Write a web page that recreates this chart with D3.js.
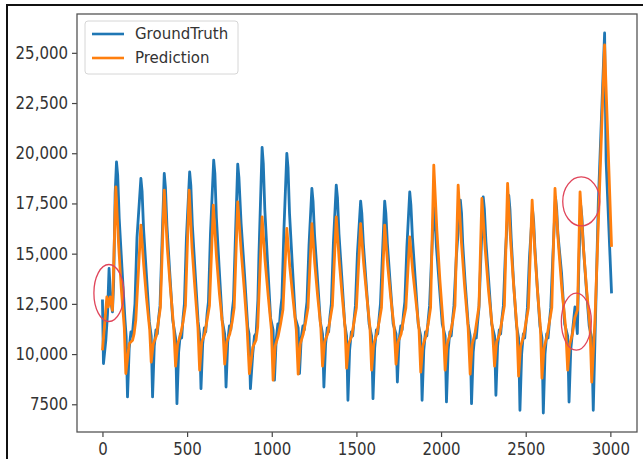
<!DOCTYPE html>
<html>
<head>
<meta charset="utf-8">
<script src="https://cdn.jsdelivr.net/npm/d3@7"></script>
<style>
  body { margin: 0; background: #fff; }
  svg { display: block; font-family: "DejaVu Sans", sans-serif; }
</style>
</head>
<body>
<div id="chart"></div>
<script>
'use strict'

// Series, [index, value]
//----------------------------------------------
var gt_points = [
  [0,12720],[6,9530],[20,10690],[30,12020],[39,14260],[50,12600],[59,12100],[66,13500],[75,18000],[83,19574],
  [90,18900],[99,16750],[115,14330],[133,11700],[140,10900],[148,7864],[158,10300],[168,11100],[176,10900],[184,11700],[192,12500],[204,15800],[227,18746],
  [234,18100],[243,16210],[259,14040],[277,11600],[288,10900],[296,7864],[306,10400],[316,11200],[324,11000],[332,11800],[340,12400],[352,15600],[365,18995],
  [372,18300],[381,16370],[397,14120],[415,11700],[432,10800],[440,7534],[450,10100],[460,11000],[468,10800],[476,11800],[484,12500],[496,15800],[515,19075],
  [522,18400],[531,16420],[547,14150],[565,11600],[574,11000],[582,8280],[592,10500],[602,11300],[610,11100],[618,12000],[626,12600],[638,16000],[657,19658],
  [664,19000],[673,16800],[689,14350],[707,11700],[722,11000],[730,8360],[740,10600],[750,11400],[758,11200],[766,12100],[774,12700],[786,16000],[799,19459],
  [806,18800],[819,16500],[839,14000],[858,11350],[866,11000],[874,8280],[888,10040],[898,10900],[908,11040],[918,12680],[924,14850],[943,20290],
  [950,19500],[959,17200],[975,14600],[993,11800],[1008,11200],[1016,8700],[1026,10700],[1036,11500],[1044,11300],[1052,12200],[1060,12800],[1072,16200],[1089,19992],
  [1096,19300],[1105,17000],[1121,14500],[1139,11800],[1156,11300],[1164,9030],[1174,10800],[1184,11400],[1192,11200],[1200,12000],[1208,12600],[1220,15400],[1237,18248],
  [1244,17600],[1253,15900],[1269,13900],[1287,11600],[1300,11000],[1308,8360],[1318,10500],[1328,11300],[1336,11100],[1344,11900],[1352,12500],[1364,15500],[1381,18413],
  [1388,17800],[1397,15990],[1413,13920],[1431,11500],[1442,10900],[1450,7700],[1460,10200],[1470,11100],[1478,10900],[1486,11700],[1494,12400],[1506,15000],[1525,17615],
  [1532,17000],[1541,15500],[1557,13600],[1575,11500],[1590,10900],[1598,7780],[1608,10300],[1618,11200],[1626,11000],[1634,11800],[1642,12500],[1654,15000],[1667,17615],
  [1674,17000],[1683,15500],[1699,13600],[1717,11500],[1734,11000],[1742,8610],[1752,10700],[1762,11400],[1770,11200],[1778,12000],[1786,12600],[1798,15300],[1815,18080],
  [1822,17400],[1831,15800],[1847,13800],[1865,11500],[1880,10900],[1888,7700],[1898,10200],[1908,11100],[1916,10900],[1924,11700],[1932,12400],[1944,14800],[1957,17300],
  [1964,16800],[1973,15300],[1989,13500],[2007,11500],[2024,10900],[2032,7615],[2042,10200],[2052,11100],[2060,10900],[2068,11700],[2076,12400],[2090,14800],[2114,17665],
  [2121,17000],[2128,15500],[2142,13600],[2160,11500],[2172,10900],[2180,7534],[2190,10100],[2200,11000],[2208,10800],[2216,11600],[2224,12300],[2236,15000],[2249,17830],
  [2256,17200],[2265,15600],[2281,13700],[2299,11500],[2316,10900],[2324,7950],[2334,10400],[2344,11200],[2352,11000],[2360,11800],[2368,12400],[2380,15000],[2400,17900],
  [2407,17200],[2414,15800],[2428,13600],[2446,11400],[2458,10800],[2466,7200],[2476,10000],[2486,11000],[2494,10800],[2502,11600],[2510,12300],[2522,14800],[2540,17200],
  [2547,16600],[2554,15300],[2568,13400],[2584,11400],[2596,10800],[2604,7066],[2614,10000],[2624,11000],[2632,10800],[2640,11600],[2648,12300],[2660,14800],[2676,17800],
  [2683,17200],[2690,16000],[2712,14000],[2730,11500],[2748,10900],[2756,7614],[2766,10200],[2776,11100],[2791,12350],[2805,11020],[2814,14500],[2825,17400],
  [2832,16800],[2841,15300],[2857,13400],[2875,11400],[2890,10800],[2899,7200],[2929,17580],[2966,25987],[2975,19600],[3007,13020]
]

var pred_points = [
  [0,10190],[14,11600],[26,12850],[34,12350],[46,12850],[59,12180],[79,18328],
  [95,15500],[111,13300],[129,11300],[138,9030],[158,10520],[178,10690],[187,11020],[197,11690],[227,16420],
  [244,14400],[260,12800],[279,11200],[288,9600],[300,10500],[318,10900],[330,11600],[342,12300],[365,18164],
  [383,15300],[401,13300],[421,11300],[432,9400],[444,10500],[462,11000],[476,11600],[490,12400],[512,18164],
  [529,15300],[546,13300],[564,11300],[574,9200],[586,10600],[604,11000],[618,11700],[632,12400],[655,17415],
  [673,14900],[691,13000],[711,11300],[722,9500],[734,10600],[752,11000],[766,11600],[778,12300],[799,17580],
  [819,15170],[838,13180],[854,11350],[868,9030],[888,10350],[907,10690],[917,11350],[943,16833],
  [961,14600],[979,12900],[998,11200],[1008,8700],[1020,10400],[1038,10900],[1052,11500],[1066,12200],[1089,16255],
  [1107,14300],[1125,12800],[1145,11200],[1156,9000],[1168,10500],[1186,11000],[1200,11600],[1214,12300],[1237,16500],
  [1254,14500],[1271,12900],[1290,11300],[1300,9400],[1312,10600],[1330,11000],[1344,11700],[1358,12400],[1381,16833],
  [1398,14700],[1415,13000],[1433,11300],[1442,9300],[1454,10500],[1472,10900],[1486,11600],[1500,12300],[1525,16500],
  [1543,14500],[1561,12900],[1580,11300],[1590,9200],[1602,10500],[1620,11000],[1634,11600],[1648,12300],[1667,16420],
  [1685,14400],[1703,12800],[1723,11300],[1734,9500],[1746,10600],[1764,11000],[1778,11700],[1792,12300],[1815,15836],
  [1833,14100],[1851,12700],[1870,11200],[1880,9100],[1892,10400],[1910,10900],[1924,11500],[1938,12300],[1957,19410],
  [1975,16200],[1993,13700],[2013,11400],[2024,9200],[2036,10500],[2054,11000],[2068,11600],[2082,12400],[2101,18413],
  [2120,15600],[2139,13400],[2160,11300],[2172,9000],[2184,10500],[2200,11000],[2212,11700],[2224,12400],[2241,17750],
  [2261,15200],[2281,13100],[2303,11300],[2316,9400],[2328,10600],[2346,11000],[2360,11700],[2374,12400],[2393,18500],
  [2411,15600],[2429,13400],[2448,11300],[2458,8900],[2470,10400],[2488,10900],[2502,11600],[2516,12300],[2538,17665],
  [2554,15100],[2570,13100],[2587,11300],[2596,8800],[2608,10300],[2626,10900],[2640,11600],[2654,12300],[2673,18248],
  [2693,15500],[2713,13300],[2736,11300],[2748,9200],[2760,10500],[2776,11000],[2790,11800],[2806,12200],[2821,18080],
  [2840,15400],[2859,13300],[2880,11300],[2890,8600],[2909,11700],[2966,25390],[3007,15340]
]

var series_names = ['GroundTruth', 'Prediction']
var x_ticks = [0, 500, 1000, 1500, 2000, 2500, 3000]
var x_tick_labels = ['0', '500', '1000', '1500', '2000', '2500', '3000']
var y_ticks = [7500, 10000, 12500, 15000, 17500, 20000, 22500, 25000]
var y_tick_labels = ['7500', '10,000', '12,500', '15,000', '17,500', '20,000', '22,500', '25,000']

// red hand-drawn circles, centred on data positions
var marks_centers = [[38, 13040], [2828, 17600], [2799, 11620]]

//----------------------------------------------
var W = 643, H = 459
var margin = {top: 14, right: 6, bottom: 27, left: 77}
var colors = ['#1f77b4', '#ff7f0e']

var svg = d3.select('#chart').append('svg')
  .attr('width', W)
  .attr('height', H)

// black frame of the screenshot
svg.append('path')
  .attr('d', 'M7,' + H + 'V5H' + W)
  .attr('fill', 'none')
  .attr('stroke', '#111')
  .attr('stroke-width', 2)

var all = gt_points.concat(pred_points)
var x_ext = d3.extent(all, function(d) { return d[0] })
var y_ext = d3.extent(all, function(d) { return d[1] })
var x_pad = (x_ext[1] - x_ext[0]) * 0.05
var y_pad = (y_ext[1] - y_ext[0]) * 0.05

var scale_x = d3.scaleLinear()
  .domain([x_ext[0] - x_pad, x_ext[1] + x_pad])
  .range([margin.left, W - margin.right])

var scale_y = d3.scaleLinear()
  .domain([y_ext[0] - y_pad, y_ext[1] + y_pad])
  .range([H - margin.bottom, margin.top])

var line = d3.line()
  .x(function(d) { return scale_x(d[0]) })
  .y(function(d) { return scale_y(d[1]) })

// Draw the series, ground truth first
svg.selectAll('path.series')
  .data([gt_points, pred_points])
  .enter().append('path')
  .attr('class', 'series')
  .attr('d', line)
  .attr('fill', 'none')
  .attr('stroke', function(d, i) { return colors[i] })
  .attr('stroke-width', 2.8)
  .attr('stroke-linejoin', 'round')

// Axes
var xAxis = d3.axisBottom(scale_x).tickValues(x_ticks).tickSize(5).tickPadding(5)
  .tickFormat(function(d, i) { return x_tick_labels[i] })
var yAxis = d3.axisLeft(scale_y).tickValues(y_ticks).tickSize(5).tickPadding(4)
  .tickFormat(function(d, i) { return y_tick_labels[i] })

var gx = svg.append('g')
  .attr('transform', 'translate(0,' + (H - margin.bottom) + ')')
  .call(xAxis)
var gy = svg.append('g')
  .attr('transform', 'translate(' + margin.left + ',0)')
  .call(yAxis)

;[gx, gy].forEach(function(g) {
  g.select('.domain').remove()
  g.selectAll('.tick line').attr('stroke', '#444').attr('stroke-width', 1.2)
  g.selectAll('.tick text')
    .attr('fill', '#333')
    .attr('transform', 'scale(1,1.12)')
    .style('font-size', '15px')
    .style('font-family', '"DejaVu Sans", sans-serif')
})

// plot frame
svg.append('rect')
  .attr('x', margin.left)
  .attr('y', margin.top)
  .attr('width', W - margin.right - margin.left)
  .attr('height', H - margin.bottom - margin.top)
  .attr('fill', 'none')
  .attr('stroke', '#555')
  .attr('stroke-width', 1.3)

// Legend
var lg = svg.append('g').attr('transform', 'translate(85,21)')
lg.append('rect')
  .attr('width', 153).attr('height', 53).attr('rx', 3)
  .attr('fill', '#fff').attr('fill-opacity', 0.8)
  .attr('stroke', '#d6d6d6')
series_names.forEach(function(name, i) {
  var yy = 13 + i * 24
  lg.append('line')
    .attr('x1', 7).attr('x2', 39).attr('y1', yy).attr('y2', yy)
    .attr('stroke', colors[i]).attr('stroke-width', 2.6)
  lg.append('text')
    .attr('x', 50).attr('y', yy)
    .attr('dy', '0.36em')
    .attr('fill', '#333')
    .style('font-size', '15px')
    .text(name)
})

// red annotation ellipses
svg.selectAll('ellipse.mark')
  .data(marks_centers)
  .enter().append('ellipse')
  .attr('class', 'mark')
  .attr('cx', function(d) { return scale_x(d[0]) })
  .attr('cy', function(d) { return scale_y(d[1]) })
  .attr('rx', function(d, i) { return i == 1 ? 18.5 : 15 })
  .attr('ry', function(d, i) { return i == 1 ? 24.5 : 28.5 })
  .attr('fill', 'none')
  .attr('stroke', '#e0455a')
  .attr('stroke-width', 1.3)
</script>
</body>
</html>
